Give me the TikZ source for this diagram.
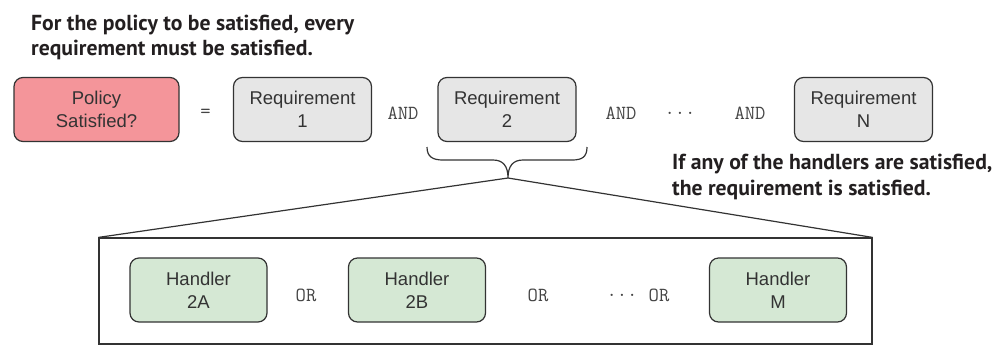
\documentclass[tikz,border=0pt]{standalone}
\usepackage{fontspec}
\setmainfont{Liberation Sans}
\newfontfamily\notef{PT Sans}
\definecolor{ink}{HTML}{333333}
\definecolor{notecol}{HTML}{231F20}
\definecolor{pinkfill}{HTML}{F4959A}
\definecolor{grayfill}{HTML}{E6E6E6}
\definecolor{greenfill}{HTML}{D5E8D4}
\definecolor{opcol}{HTML}{444444}
\begin{document}
\begin{tikzpicture}[x=1pt,y=-1pt,
  box/.style={draw=ink, line width=1.2pt, rounded corners=9pt, align=center,
    text=ink, inner sep=0pt, font=\fontsize{18.5}{23}\selectfont},
  policybox/.style={box, fill=pinkfill, minimum width=165pt, minimum height=64pt},
  reqbox/.style={box, fill=grayfill, minimum width=138pt, minimum height=64pt},
  handbox/.style={box, fill=greenfill, minimum width=137pt, minimum height=64pt},
  op/.style={text=opcol, inner sep=0pt, font=\ttfamily\fontsize{20}{22}\selectfont},
  note/.style={anchor=base west, inner sep=0pt, text=notecol, font=\notef\bfseries\fontsize{21.7}{25}\selectfont},
  frame/.style={draw=ink, line width=1.2pt, minimum width=773pt, minimum height=106pt, inner sep=0pt},
  link/.style={draw=ink, line width=1.2pt}
]
\useasboundingbox (0,0) rectangle (1003,346);

% annotations
\node[note] (t1) at (31,30) {For the policy to be satisfied, every};
\node[note] (t2) at (31,55) {requirement must be satisfied.};
\node[note] (t3) at (672,169) {If any of the handlers are satisfied,};
\node[note] (t4) at (672,195) {the requirement is satisfied.};

% top row
\node[policybox] (policy) at (96.5,109.5) {Policy\\Satisfied?};
\node[op] (eq) at (205.5,113) {=};
\node[reqbox] (r1) at (302.5,109.5) {Requirement\\1};
\node[op] (and1) at (403,113) {AND};
\node[reqbox] (r2) at (507,109.5) {Requirement\\2};
\node[op] (and2) at (621,113) {AND};
\node[op] (dots1) at (680,113) {...};
\node[op] (and3) at (750,113) {AND};
\node[reqbox] (rn) at (863.5,109.5) {Requirement\\N};

% brace
\coordinate (tip) at (508,178);
\draw[link] (427,147) .. controls (427,157) and (433,160) .. (443,160) -- (493,160)
  .. controls (503,160) and (508,166) .. (tip)
  .. controls (508,166) and (513,160) .. (523,160) -- (572,160)
  .. controls (582,160) and (587,157) .. (587,147);

% frame
\node[frame] (big) at (485.5,291) {};
\draw[link] (big.north west) -- (tip) -- (big.north east);

% handler row
\node[handbox] (h2a) at (198.5,290) {Handler\\2A};
\node[op] (or1) at (306,295) {OR};
\node[handbox] (h2b) at (417,290) {Handler\\2B};
\node[op] (or2) at (538,295) {OR};
\node[op] (dots2) at (622,295) {...};
\node[op] (or3) at (659,295) {OR};
\node[handbox] (hm) at (778,290) {Handler\\M};
\end{tikzpicture}
\end{document}
